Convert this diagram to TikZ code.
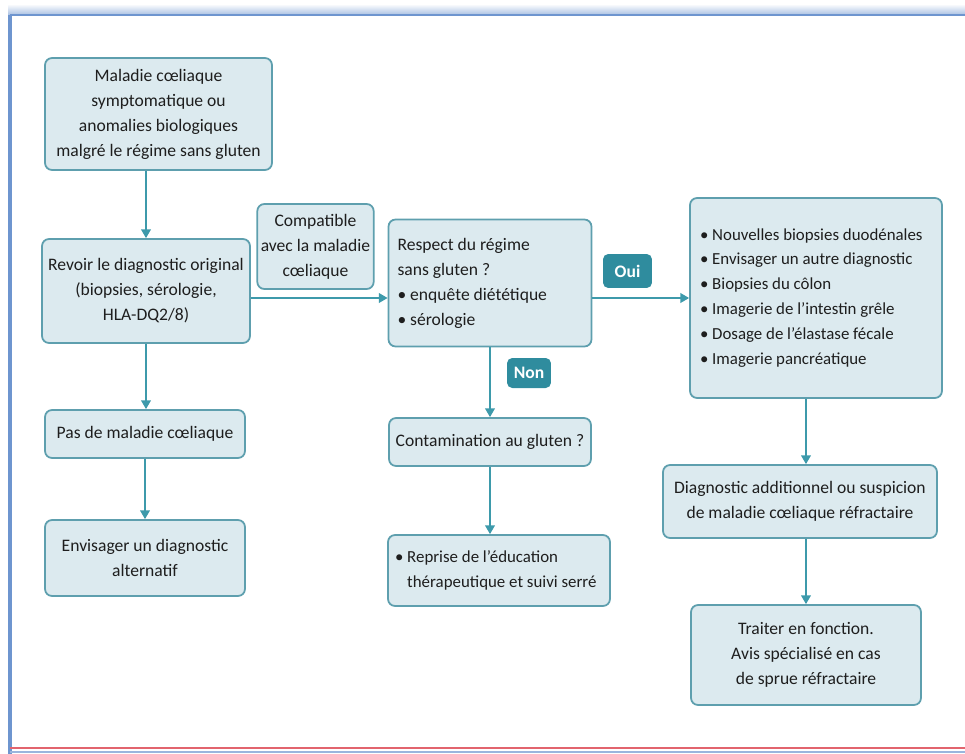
\documentclass[tikz,border=0pt]{standalone}
\usepackage{fontspec}
\setmainfont{Carlito}
\usetikzlibrary{arrows.meta}
\definecolor{boxfill}{HTML}{DCEAEF}
\definecolor{boxline}{HTML}{5E9FAE}
\definecolor{arrowcol}{HTML}{3D9AAB}
\definecolor{tagfill}{HTML}{2F8C9E}
\definecolor{textcol}{HTML}{1E1E1E}
\definecolor{framecol}{HTML}{6E95CF}
\definecolor{redline}{HTML}{E2646E}

\begin{document}
\begin{tikzpicture}[
		x=0.02cm,
		y=-0.02cm,
		box/.style={
			shape=rectangle,
			rounded corners=4pt,
			draw=boxline,
			fill=boxfill,
			line width=1pt,
			text=textcol,
			inner sep=2pt,
			font=\fontsize{10}{14.2}\selectfont,
			align=center,
		},
		listbox/.style={
			box,
			align=flush left,
			font=\fontsize{9.6}{14.2}\selectfont,
		},
		tag/.style={
			shape=rectangle,
			rounded corners=3pt,
			fill=tagfill,
			text=white,
			inner sep=1pt,
			font=\fontsize{10}{12}\selectfont\bfseries,
		},
		link/.style={
			draw=arrowcol,
			line width=1pt,
			-{Triangle[length=5pt,width=5.5pt]},
		},
	]
		\useasboundingbox (0,0) rectangle (965,754);

		% frame
		\shade[top color=white, bottom color=framecol!60] (8,4) rectangle (965,15);
		\draw[framecol, line width=1.5pt] (10,15) -- (965,15);
		\draw[framecol, line width=1.8pt] (10,15) -- (10,754);
		\draw[redline, line width=1.5pt] (10,748) -- (965,748);
		\draw[framecol!70, line width=0.8pt] (10,752) -- (965,752);

		% left column
		\node[box, minimum width=4.54cm, minimum height=2.24cm] (maladie) at (158.5,114)
			{Maladie cœliaque\\symptomatique ou\\anomalies biologiques\\malgré le régime sans gluten};
		\node[box, minimum width=4.16cm, minimum height=2.08cm] (revoir) at (146,291)
			{Revoir le diagnostic original\\(biopsies, sérologie,\\HLA-DQ2/8)};
		\node[box, minimum width=4.00cm, minimum height=0.96cm] (pas) at (145,434)
			{Pas de maladie cœliaque};
		\node[box, minimum width=4.00cm, minimum height=1.52cm] (envis) at (145,558)
			{Envisager un diagnostic\\alternatif};
		\node[box, minimum width=2.30cm, minimum height=1.70cm] (compat) at (315.5,246.5)
			{Compatible\\avec la maladie\\cœliaque};

		% middle column
		\node[listbox, font=\fontsize{10}{14.2}\selectfont, minimum height=2.54cm, inner xsep=0.18cm, text width=3.7cm] (respect) at (490,283)
			{Respect du régime\\sans gluten ?\\\textbullet\ enquête diététique\\\textbullet\ sérologie};
		\node[box, minimum width=4.04cm, minimum height=0.96cm] (contam) at (490,442)
			{Contamination au gluten ?};
		\node[listbox, minimum height=1.42cm, inner xsep=0.14cm, text width=4.16cm] (reprise) at (499,570.5)
			{\textbullet\ Reprise de l'éducation\\\hphantom{\textbullet\ }thérapeutique et suivi serré};
		\node[tag, minimum width=0.98cm, minimum height=0.68cm] (oui) at (627.5,271) {Oui};
		\node[tag, minimum width=0.88cm, minimum height=0.60cm] (non) at (529,373) {Non};

		% right column
		\node[listbox, minimum height=4.0cm, inner xsep=0.2cm, text width=4.64cm] (list) at (816,298)
			{\textbullet\ Nouvelles biopsies duodénales\\
			\textbullet\ Envisager un autre diagnostic\\
			\textbullet\ Biopsies du côlon\\
			\textbullet\ Imagerie de l'intestin grêle\\
			\textbullet\ Dosage de l'élastase fécale\\
			\textbullet\ Imagerie pancréatique};
		\node[box, minimum width=5.48cm, minimum height=1.46cm] (diag) at (800,501.5)
			{Diagnostic additionnel ou suspicion\\de maladie cœliaque réfractaire};
		\node[box, minimum width=4.60cm, minimum height=2.00cm] (traiter) at (806,655)
			{Traiter en fonction.\\Avis spécialisé en cas\\de sprue réfractaire};

		% connectors
		\draw[link] (revoir.north |- maladie.south) -- (revoir.north);
		\draw[link] (revoir.south) -- (revoir.south |- pas.north);
		\draw[link] (pas.south) -- (pas.south |- envis.north);
		\draw[link] (revoir.east |- list.west) -- (respect.west |- list.west);
		\draw[link] (respect.east |- list.west) -- (list.west);
		\draw[link] (respect.south) -- (respect.south |- contam.north);
		\draw[link] (contam.south) -- (contam.south |- reprise.north);
		\draw[link] (traiter.north |- list.south) -- (traiter.north |- diag.north);
		\draw[link] (traiter.north |- diag.south) -- (traiter.north);
	\end{tikzpicture}
\end{document}
